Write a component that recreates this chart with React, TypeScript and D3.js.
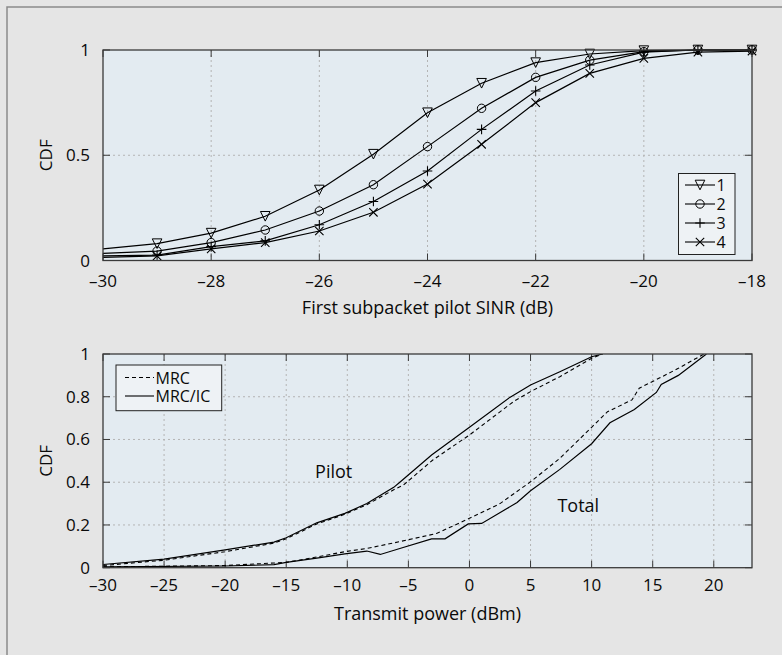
import React from "react";
import * as d3 from "d3";

// ---------- Top chart data ----------
const sinrX = [-30, -29, -28, -27, -26, -25, -24, -23, -22, -21, -20, -19, -18];
const cdf1 = [0.055, 0.08, 0.13, 0.21, 0.335, 0.505, 0.702, 0.842, 0.94, 0.981, 0.997, 1.0, 1.0];
const cdf2 = [0.034, 0.045, 0.085, 0.145, 0.235, 0.36, 0.541, 0.723, 0.87, 0.952, 0.992, 1.0, 1.0];
const cdf3 = [0.022, 0.026, 0.066, 0.093, 0.17, 0.28, 0.425, 0.623, 0.805, 0.929, 0.99, 1.0, 1.0];
const cdf4 = [0.015, 0.022, 0.055, 0.085, 0.14, 0.229, 0.363, 0.552, 0.75, 0.889, 0.96, 0.99, 0.995];
const topSeriesNames = ["1", "2", "3", "4"];
const topXTicks = [-30, -28, -26, -24, -22, -20, -18];
const topYTicks = [0, 0.5, 1];
const topYTickLabels = ["0", "0.5", "1"];

// ---------- Bottom chart data ----------
const pilotIcX = [-30, -25, -20, -16, -15, -12.5, -10.2, -8.4, -6.2, -5.7, -3.1, 0, 3.3, 5, 7.4, 10, 10.9];
const pilotIcY = [0.015, 0.04, 0.083, 0.12, 0.14, 0.21, 0.254, 0.3, 0.376, 0.4, 0.527, 0.657, 0.797, 0.855, 0.917, 0.987, 1.0];
const pilotMrcX = [-30, -25, -20, -16, -15, -12.5, -10.2, -8.4, -6.2, -5.4, -3, 0, 3.6, 5, 7.4, 10, 10.9];
const pilotMrcY = [0.01, 0.035, 0.075, 0.115, 0.135, 0.205, 0.25, 0.295, 0.365, 0.387, 0.504, 0.621, 0.777, 0.824, 0.894, 0.98, 1.0];
const totalIcX = [-30, -20, -16, -15, -12.5, -10.2, -8.4, -7.3, -5.7, -3.1, -2, -0.1, 1, 3.9, 5, 7.4, 10, 11.5, 13.5, 15.3, 15.7, 17.1, 19.4];
const totalIcY = [0.004, 0.008, 0.014, 0.025, 0.045, 0.065, 0.078, 0.062, 0.09, 0.135, 0.135, 0.205, 0.207, 0.305, 0.36, 0.46, 0.58, 0.678, 0.74, 0.82, 0.858, 0.9, 1.0];
const totalMrcX = [-30, -20, -15, -12.5, -10.2, -8.4, -5.7, -2.7, 0, 2.5, 5, 7.4, 10, 11.3, 13.3, 13.9, 15.5, 17.1, 19.2];
const totalMrcY = [0.004, 0.01, 0.025, 0.05, 0.075, 0.09, 0.122, 0.16, 0.231, 0.3, 0.402, 0.512, 0.657, 0.73, 0.785, 0.84, 0.886, 0.933, 1.0];
const bottomLegend = ["MRC", "MRC/IC"];
const bottomXTicks = [-30, -25, -20, -15, -10, -5, 0, 5, 10, 15, 20];
const bottomYTicks = [0, 0.2, 0.4, 0.6, 0.8, 1];
const bottomYTickLabels = ["0", "0.2", "0.4", "0.6", "0.8", "1"];

const FONT = "'Open Sans', 'Noto Sans', sans-serif";
const PLOT_BG = "#e3ebf1";
const PAGE_BG = "#e5e5e5";
const GRID = "#b4b4b4";
const AXIS = "#3a3a3a";
const TXT = "#0a0a0a";

const fmtMinus = (v: number) => (v < 0 ? "\u2013" + Math.abs(v) : String(v));

function Marker({ kind, x, y }: { kind: number; x: number; y: number }) {
  const s = 4.8;
  if (kind === 0) {
    const p = `M${x - s},${y - s}L${x + s},${y - s}L${x},${y + s}Z`;
    return <path d={p} fill="none" stroke="#000" strokeWidth={1} />;
  }
  if (kind === 1) return <circle cx={x} cy={y} r={4.2} fill="none" stroke="#000" strokeWidth={1} />;
  if (kind === 2)
    return <path d={`M${x - s},${y}L${x + s},${y}M${x},${y - s}L${x},${y + s}`} stroke="#000" strokeWidth={1.1} />;
  const t = 4.2;
  return <path d={`M${x - t},${y - t}L${x + t},${y + t}M${x - t},${y + t}L${x + t},${y - t}`} stroke="#000" strokeWidth={1.1} />;
}

export default function App() {
  // top scales
  const tL = 103, tR = 752, tT = 50, tB = 260.5;
  const tx = d3.scaleLinear().domain([-30, -18]).range([tL, tR]);
  const ty = d3.scaleLinear().domain([0, 1]).range([tB, tT]);
  // bottom scales
  const bL = 103, bR = 752, bT = 354, bB = 567.7;
  const bx = d3.scaleLinear().domain([-30, 23.13]).range([bL, bR]);
  const by = d3.scaleLinear().domain([0, 1]).range([bB, bT]);

  const topSeries = [cdf1, cdf2, cdf3, cdf4];
  const topLine = d3
    .line<number>()
    .x((_, i) => tx(sinrX[i]))
    .y((d) => ty(d));

  const bLine = (xs: number[], ys: number[]) =>
    d3
      .line<number>()
      .x((_, i) => bx(xs[i]))
      .y((d) => by(d))(ys) as string;

  const tick = 7;

  return (
    <svg
      width={782}
      height={655}
      style={{ position: "absolute", left: 0, top: 0, background: PAGE_BG }}
      fontFamily={FONT}
    >
      <rect x={0} y={0} width={782} height={655} fill={PAGE_BG} />
      {/* outer frame */}
      <path d="M7,700V7H800" fill="none" stroke="#8a8a8a" strokeWidth={1.5} />

      <defs>
        <clipPath id="clipTop">
          <rect x={tL} y={tT - 8} width={tR - tL + 8} height={tB - tT + 8} />
        </clipPath>
        <clipPath id="clipBot">
          <rect x={bL} y={bT} width={bR - bL} height={bB - bT} />
        </clipPath>
      </defs>

      {/* ================= TOP CHART ================= */}
      <rect x={tL} y={tT} width={tR - tL} height={tB - tT} fill={PLOT_BG} />
      {topXTicks.slice(1, -1).map((v) => (
        <line key={"tgx" + v} x1={tx(v)} x2={tx(v)} y1={tT} y2={tB} stroke={GRID} strokeDasharray="2,3" strokeWidth={1} />
      ))}
      {topYTicks.slice(1, -1).map((v) => (
        <line key={"tgy" + v} x1={tL} x2={tR} y1={ty(v)} y2={ty(v)} stroke={GRID} strokeDasharray="2,3" strokeWidth={1} />
      ))}
      {topXTicks.map((v) => (
        <g key={"ttx" + v}>
          <line x1={tx(v)} x2={tx(v)} y1={tB} y2={tB - tick} stroke={AXIS} strokeWidth={1} />
          <line x1={tx(v)} x2={tx(v)} y1={tT} y2={tT + tick} stroke={AXIS} strokeWidth={1} />
          <text x={tx(v)} y={287} fontSize={17} textAnchor="middle" fill={TXT}>
            {fmtMinus(v)}
          </text>
        </g>
      ))}
      {topYTicks.map((v, i) => (
        <g key={"tty" + v}>
          <line x1={tL} x2={tL + tick} y1={ty(v)} y2={ty(v)} stroke={AXIS} strokeWidth={1} />
          <line x1={tR} x2={tR - tick} y1={ty(v)} y2={ty(v)} stroke={AXIS} strokeWidth={1} />
          <text x={90} y={ty(v) + 6} fontSize={17} textAnchor="end" fill={TXT}>
            {topYTickLabels[i]}
          </text>
        </g>
      ))}
      <g clipPath="url(#clipTop)">
        {topSeries.map((s, k) => (
          <path key={"tl" + k} d={topLine(s) as string} fill="none" stroke="#000" strokeWidth={1.2} />
        ))}
        {topSeries.map((s, k) =>
          s.map((v, i) => (i === 0 ? null : <Marker key={`m${k}-${i}`} kind={k} x={tx(sinrX[i])} y={ty(v)} />))
        )}
      </g>
      <rect x={tL} y={tT} width={tR - tL} height={tB - tT} fill="none" stroke={AXIS} strokeWidth={1.3} />
      {/* top legend */}
      <rect x={678.5} y={173.5} width={56.5} height={81} fill="#eef2f5" stroke="#222" strokeWidth={1} />
      {topSeriesNames.map((n, k) => {
        const yy = 185 + k * 19;
        return (
          <g key={"tlg" + k}>
            <line x1={685} x2={715} y1={yy} y2={yy} stroke="#000" strokeWidth={1.1} />
            <Marker kind={k} x={700} y={yy} />
            <text x={716.5} y={yy + 6} fontSize={16} fill={TXT}>
              {n}
            </text>
          </g>
        );
      })}
      <text x={(tL + tR) / 2} y={314} fontSize={18} textAnchor="middle" fill={TXT}>
        First subpacket pilot SINR (dB)
      </text>
      <text transform={`translate(51.5,${(tT + tB) / 2}) rotate(-90)`} fontSize={17} textAnchor="middle" fill={TXT}>
        CDF
      </text>

      {/* ================= BOTTOM CHART ================= */}
      <rect x={bL} y={bT} width={bR - bL} height={bB - bT} fill={PLOT_BG} />
      {bottomXTicks.slice(1).map((v) => (
        <line key={"bgx" + v} x1={bx(v)} x2={bx(v)} y1={bT} y2={bB} stroke={GRID} strokeDasharray="2,3" strokeWidth={1} />
      ))}
      {bottomYTicks.slice(1, -1).map((v) => (
        <line key={"bgy" + v} x1={bL} x2={bR} y1={by(v)} y2={by(v)} stroke={GRID} strokeDasharray="2,3" strokeWidth={1} />
      ))}
      {bottomXTicks.map((v) => (
        <g key={"btx" + v}>
          <line x1={bx(v)} x2={bx(v)} y1={bB} y2={bB - tick} stroke={AXIS} strokeWidth={1} />
          <line x1={bx(v)} x2={bx(v)} y1={bT} y2={bT + tick} stroke={AXIS} strokeWidth={1} />
          <text x={bx(v)} y={591} fontSize={17} textAnchor="middle" fill={TXT}>
            {fmtMinus(v)}
          </text>
        </g>
      ))}
      {bottomYTicks.map((v, i) => (
        <g key={"bty" + v}>
          <line x1={bL} x2={bL + tick} y1={by(v)} y2={by(v)} stroke={AXIS} strokeWidth={1} />
          <line x1={bR} x2={bR - tick} y1={by(v)} y2={by(v)} stroke={AXIS} strokeWidth={1} />
          <text x={90} y={by(v) + 6} fontSize={17} textAnchor="end" fill={TXT}>
            {bottomYTickLabels[i]}
          </text>
        </g>
      ))}
      <g clipPath="url(#clipBot)">
        <path d={bLine(pilotMrcX, pilotMrcY)} fill="none" stroke="#000" strokeWidth={1.1} strokeDasharray="4,3" />
        <path d={bLine(totalMrcX, totalMrcY)} fill="none" stroke="#000" strokeWidth={1.1} strokeDasharray="4,3" />
        <path d={bLine(pilotIcX, pilotIcY)} fill="none" stroke="#000" strokeWidth={1.2} />
        <path d={bLine(totalIcX, totalIcY)} fill="none" stroke="#000" strokeWidth={1.2} />
      </g>
      <rect x={bL} y={bT} width={bR - bL} height={bB - bT} fill="none" stroke={AXIS} strokeWidth={1.3} />
      {/* bottom legend */}
      <rect x={116} y={365} width={105.7} height={45.7} fill="#eef2f5" stroke="#222" strokeWidth={1} />
      {bottomLegend.map((n, k) => {
        const yy = 377.5 + k * 18.5;
        return (
          <g key={"blg" + k}>
            <line x1={125} x2={154} y1={yy} y2={yy} stroke="#000" strokeWidth={1.1} strokeDasharray={k === 0 ? "4,3" : undefined} />
            <text x={155.5} y={yy + 6} fontSize={16} fill={TXT}>
              {n}
            </text>
          </g>
        );
      })}
      <text x={333.7} y={477.7} fontSize={18} textAnchor="middle" fill={TXT}>
        Pilot
      </text>
      <text x={578.3} y={511.7} fontSize={18} textAnchor="middle" fill={TXT}>
        Total
      </text>
      <text x={(bL + bR) / 2} y={620} fontSize={18} textAnchor="middle" fill={TXT}>
        Transmit power (dBm)
      </text>
      <text transform={`translate(51.5,${(bT + bB) / 2}) rotate(-90)`} fontSize={17} textAnchor="middle" fill={TXT}>
        CDF
      </text>
    </svg>
  );
}
